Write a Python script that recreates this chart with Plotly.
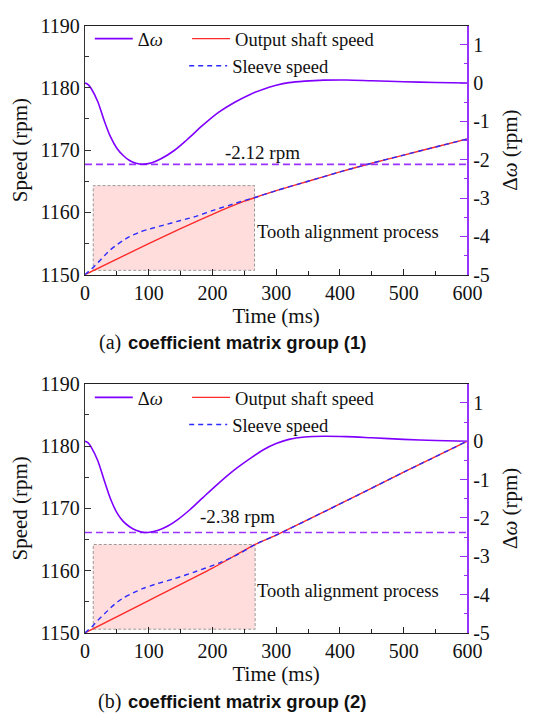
import plotly.graph_objects as go

W, H = 546, 721

# ---------------- data ----------------
# (a) coefficient matrix group (1)
t_dw_a = [0, 5, 10, 20, 30, 40, 50, 60, 70, 80, 90, 105, 120, 140, 160, 185, 210, 235, 260, 280, 300, 320, 345, 375, 410, 450, 500, 550, 600]
dw_a = [0, -0.04, -0.15, -0.48, -0.97, -1.40, -1.70, -1.89, -2.02, -2.09, -2.12, -2.08, -1.97, -1.76, -1.48, -1.10, -0.76, -0.50, -0.29, -0.16, -0.06, 0.01, 0.05, 0.075, 0.08, 0.06, 0.035, 0.015, 0.0]
t_out_a = [0, 50, 100, 150, 200, 250, 267, 300, 350, 400, 450, 500, 550, 600]
out_a = [1150, 1152.5, 1155.0, 1157.4, 1159.7, 1161.8, 1162.4, 1163.5, 1165.0, 1166.5, 1167.9, 1169.2, 1170.5, 1171.8]
t_slv_a = [0, 10, 20, 30, 40, 50, 60, 70, 85, 100, 125, 150, 175, 200, 225, 250, 267, 300, 350, 400, 450, 500, 550, 600]
slv_a = [1150, 1150.9, 1151.9, 1153.0, 1154.0, 1154.8, 1155.5, 1156.1, 1156.8, 1157.3, 1158.0, 1158.7, 1159.4, 1160.3, 1161.1, 1161.9, 1162.4, 1163.5, 1165.0, 1166.5, 1167.9, 1169.2, 1170.5, 1171.8]
min_a = -2.12

# (b) coefficient matrix group (2)
t_dw_b = [0, 5, 10, 20, 30, 40, 50, 60, 70, 80, 93, 115, 130, 145, 165, 185, 210, 235, 260, 280, 300, 320, 345, 375, 410, 450, 500, 550, 600]
dw_b = [0, -0.04, -0.16, -0.50, -1.01, -1.50, -1.86, -2.09, -2.23, -2.32, -2.38, -2.32, -2.21, -2.05, -1.78, -1.47, -1.09, -0.74, -0.44, -0.22, -0.06, 0.05, 0.11, 0.13, 0.12, 0.09, 0.05, 0.02, 0.0]
t_out_b = [0, 100, 200, 267, 300, 400, 500, 600]
out_b = [1150, 1155.2, 1160.4, 1164.2, 1165.7, 1170.7, 1175.8, 1180.8]
t_slv_b = [0, 10, 20, 30, 40, 50, 60, 75, 90, 110, 140, 175, 210, 240, 267, 300, 400, 500, 600]
slv_b = [1150, 1150.9, 1152.0, 1153.0, 1154.0, 1154.9, 1155.6, 1156.4, 1157.1, 1157.8, 1158.7, 1159.9, 1161.2, 1162.6, 1164.2, 1165.7, 1170.7, 1175.8, 1180.8]
min_b = -2.38

# tooth alignment region [t0, t1, speed0, speed1]
box_a = [13, 266, 1150.7, 1164.3]
box_b = [13, 267, 1150.6, 1164.2]

speed_ticks = [1150, 1160, 1170, 1180, 1190]
dw_ticks = [1, 0, -1, -2, -3, -4, -5]
dw_ticktext = ["1", "0", "-1", "-2", "-3", "-4", "-5"]
time_ticks = [0, 100, 200, 300, 400, 500, 600]

# ---------------- styles ----------------
SERIF = "Liberation Serif"
SANS = "Liberation Sans"
C_DW = "#8000FF"
C_RAXIS = "#9933FF"
C_RED = "#FF2A2A"
C_BLUE = "#2B2BFF"

def px_x(p):
    return p / W

def px_y(p):
    return 1 - p / H

X_DOM = [px_x(83), px_x(480)]
DOM_A = [px_y(272), px_y(15)]
DOM_B = [px_y(641.5), px_y(384.5)]

fig = go.Figure()

def add_panel(xa, ya_l, ya_r, t_dw, dw, t_out, out, t_slv, slv, mn, legs):
    fig.add_trace(go.Scatter(x=t_out, y=out, mode="lines", name="Output shaft speed",
                             line=dict(color=C_RED, width=1.4, shape="spline", smoothing=0.6),
                             xaxis=xa, yaxis=ya_l, legend=legs[1]))
    fig.add_trace(go.Scatter(x=t_slv, y=slv, mode="lines", name="Sleeve speed",
                             line=dict(color=C_BLUE, width=1.4, dash="5px,4px", shape="spline", smoothing=0.8),
                             xaxis=xa, yaxis=ya_l, legend=legs[2]))
    fig.add_trace(go.Scatter(x=[0, 600], y=[mn, mn], mode="lines", showlegend=False,
                             line=dict(color=C_RAXIS, width=1.7, dash="7px,4px"),
                             xaxis=xa, yaxis=ya_r))
    fig.add_trace(go.Scatter(x=t_dw, y=dw, mode="lines", name="Δ<i>ω</i>",
                             line=dict(color=C_DW, width=1.6, shape="spline", smoothing=0.9),
                             xaxis=xa, yaxis=ya_r, legend=legs[0]))

add_panel("x", "y", "y2", t_dw_a, dw_a, t_out_a, out_a, t_slv_a, slv_a, min_a, ["legend", "legend2", "legend3"])
add_panel("x2", "y3", "y4", t_dw_b, dw_b, t_out_b, out_b, t_slv_b, slv_b, min_b, ["legend4", "legend5", "legend6"])

for xr, yr, box in [("x", "y", box_a), ("x2", "y3", box_b)]:
    fig.add_shape(type="rect", xref=xr, yref=yr, x0=box[0], x1=box[1], y0=box[2], y1=box[3],
                  fillcolor="#FFDDDD", line=dict(color="#999999", width=1, dash="3px,2px"), layer="below")

xaxis_common = dict(range=[0, 600], tickvals=time_ticks, ticks="inside", ticklen=6, tickwidth=1,
                    tickcolor="#222", showline=True, linecolor="#222", linewidth=1.2, mirror=True,
                    showgrid=False, zeroline=False, domain=X_DOM,
                    minor=dict(ticks="inside", ticklen=4, dtick=50, tickcolor="#222"),
                    tickfont=dict(family=SERIF, size=20, color="#111"),
                    title=dict(text="Time (ms)", font=dict(family=SERIF, size=21, color="#111"), standoff=5))
yl_common = dict(range=[1150, 1190], tickvals=speed_ticks, ticks="inside", ticklen=6, tickwidth=1,
                 tickcolor="#333", showline=True, linecolor="#333", linewidth=1.2,
                 showgrid=False, zeroline=False,
                 minor=dict(ticks="inside", ticklen=4, dtick=5, tickcolor="#333"),
                 tickfont=dict(family=SERIF, size=20, color="#111"),
                 title=dict(text="Speed (rpm)", font=dict(family=SERIF, size=21, color="#111"), standoff=7))
yr_common = dict(range=[-5, 1.5], tickvals=dw_ticks, ticktext=dw_ticktext, ticks="inside", ticklen=8,
                 tickwidth=1.2, tickcolor=C_RAXIS, showline=True, linecolor=C_RAXIS, linewidth=1.5,
                 showgrid=False, zeroline=False, side="right",
                 minor=dict(ticks="inside", ticklen=4, dtick=0.5, tickcolor=C_RAXIS),
                 tickfont=dict(family=SERIF, size=20, color="#111"),
                 title=dict(text="Δ<i>ω</i> (rpm)", font=dict(family=SERIF, size=21, color="#111"), standoff=13))

fig.update_layout(
    width=W, height=H, margin=dict(l=0, r=0, t=0, b=0),
    paper_bgcolor="white", plot_bgcolor="white",
    xaxis=dict(**xaxis_common, anchor="y"),
    yaxis=dict(**yl_common, domain=DOM_A, anchor="x"),
    yaxis2=dict(**yr_common, domain=DOM_A, anchor="x", overlaying="y"),
    xaxis2=dict(**xaxis_common, anchor="y3"),
    yaxis3=dict(**yl_common, domain=DOM_B, anchor="x2"),
    yaxis4=dict(**yr_common, domain=DOM_B, anchor="x2", overlaying="y3"),
)

leg_font = dict(family=SERIF, size=18.5, color="#111")
def leg(xp, yp):
    return dict(x=px_x(xp), y=px_y(yp), xanchor="left", yanchor="middle", xref="paper", yref="paper",
                bgcolor="rgba(0,0,0,0)", borderwidth=0, font=leg_font, itemwidth=38)

fig.update_layout(
    legend=leg(88, 29), legend2=leg(189, 29), legend3=leg(186, 57),
    legend4=leg(88, 399), legend5=leg(189, 399), legend6=leg(186, 427),
)

# annotations
for xr, yr2, yl, mn, ty_min, tx_min in [("x", "y2", "y", min_a, -1.82, 279), ("x2", "y4", "y3", min_b, -1.96, 240)]:
    fig.add_annotation(x=tx_min, y=ty_min, xref=xr, yref=yr2, text=f"{mn:.2f} rpm", showarrow=False,
                       font=dict(family=SERIF, size=19, color="#111"))
    fig.add_annotation(x=267, y=1156.8, xref=xr, yref=yl, text="Tooth alignment process", showarrow=False,
                       xanchor="left", font=dict(family=SERIF, size=18.5, color="#111"))

for yp, lab, grp in [(342, "(a)", "(1)"), (712, "(b)", "(2)")]:
    fig.add_annotation(x=px_x(123), y=px_y(yp), xref="paper", yref="paper", text=lab, showarrow=False,
                       xanchor="right", yanchor="middle", font=dict(family=SERIF, size=20, color="#111"))
    fig.add_annotation(x=px_x(126), y=px_y(yp), xref="paper", yref="paper",
                       text=f"<b>coefficient matrix group {grp}</b>", showarrow=False,
                       xanchor="left", yanchor="middle", font=dict(family=SANS, size=18.5, color="#111"))

fig.write_html("out.html")
